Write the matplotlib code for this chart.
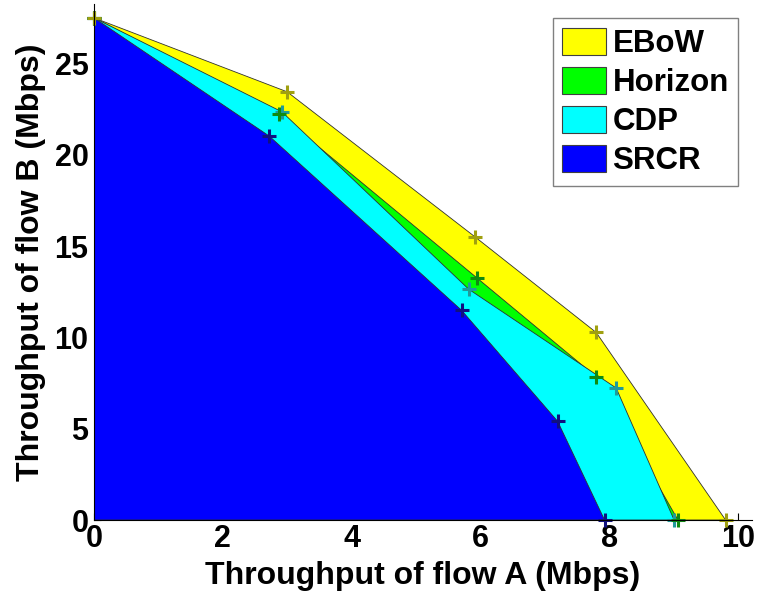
import matplotlib
matplotlib.use("Agg")
import matplotlib.pyplot as plt
from matplotlib.patches import Patch

plt.rcParams['font.family'] = ['Liberation Sans', 'DejaVu Sans']
plt.rcParams['font.weight'] = 'bold'

series_names = ["EBoW", "Horizon", "CDP", "SRCR"]
fill_colors = ["#ffff00", "#00ff00", "#00ffff", "#0000ff"]
marker_colors = ["#a0a010", "#108a10", "#209a9a", "#101080"]

ebow_x = [0.0, 3.00, 5.92, 7.80, 9.81]
ebow_y = [27.5, 23.45, 15.5, 10.27, 0.0]
horizon_x = [0.0, 2.87, 5.95, 7.80, 9.07]
horizon_y = [27.5, 22.24, 13.25, 7.84, 0.0]
cdp_x = [0.0, 2.92, 5.82, 8.11, 9.01]
cdp_y = [27.5, 22.35, 12.64, 7.23, 0.0]
srcr_x = [0.0, 2.72, 5.71, 7.20, 7.93]
srcr_y = [27.5, 21.03, 11.48, 5.41, 0.0]

xs = [ebow_x, horizon_x, cdp_x, srcr_x]
ys = [ebow_y, horizon_y, cdp_y, srcr_y]

x_ticks = [0, 2, 4, 6, 8, 10]
y_ticks = [0, 5, 10, 15, 20, 25]

fig = plt.figure(figsize=(7.6, 5.96), dpi=100)
ax = fig.add_axes([0.1237, 0.1275, 0.8658, 0.8658])

for x, y, fc in zip(xs, ys, fill_colors):
    px = [0.0] + list(x) + [x[-1]]
    py = [0.0] + list(y) + [0.0]
    ax.fill(px, py, facecolor=fc, edgecolor="#303030", linewidth=0.6, zorder=2)
for x, y, mc in reversed(list(zip(xs, ys, marker_colors))):
    ax.plot(x, y, linestyle="none", marker="+", markersize=10, markeredgewidth=2.2,
            color=mc, zorder=4, clip_on=False)

ax.set_xlim(0, 10.22)
ax.set_ylim(0, 28.26)
ax.set_xticks(x_ticks)
ax.set_yticks(y_ticks)
ax.spines['top'].set_visible(False)
ax.spines['right'].set_visible(False)
ax.spines['left'].set_zorder(5)
ax.spines['bottom'].set_zorder(5)
ax.tick_params(direction='in', length=5, width=0.8, labelsize=22)
ax.tick_params(axis='y', pad=4)
ax.tick_params(axis='x', pad=3)
for lab in ax.get_xticklabels() + ax.get_yticklabels():
    lab.set_fontweight('bold')
ax.set_xlabel("Throughput of flow A (Mbps)", fontsize=23, fontweight='bold', labelpad=5)
ax.set_ylabel("Throughput of flow B (Mbps)", fontsize=23, fontweight='bold', labelpad=6)

handles = [Patch(facecolor=c, edgecolor="#404040", linewidth=0.8) for c in fill_colors]
leg = ax.legend(handles, series_names, loc="upper right", bbox_to_anchor=(0.979, 0.972),
                fontsize=22.5, fancybox=False, framealpha=1, edgecolor="#808080",
                handlelength=1.4, handleheight=0.95, handletextpad=0.2,
                labelspacing=0.25, borderpad=0.3, borderaxespad=0)
leg.get_frame().set_linewidth(1.0)
for t in leg.get_texts():
    t.set_fontweight('bold')

fig.savefig("out.png", dpi=100)
